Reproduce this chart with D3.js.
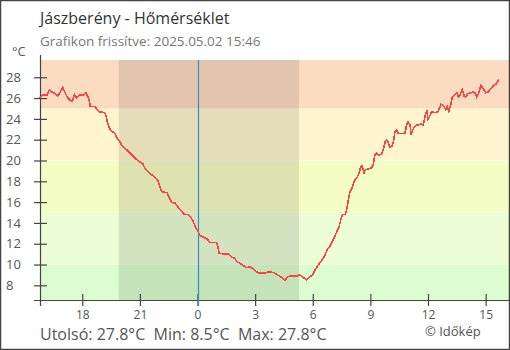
<!DOCTYPE html>
<html>
<head>
<meta charset="utf-8">
<script src="https://cdn.jsdelivr.net/npm/d3@7"></script>
<style>
  html, body { margin: 0; padding: 0; background: #fff; }
  svg { display: block; font-family: "Open Sans", sans-serif; }
</style>
</head>
<body>
<svg id="chart" width="510" height="350"></svg>
<script>
// Temperature readings, Jászberény, 2025-05-01 15:47 -> 2025-05-02 15:40
const times = [
  "2025-05-01 15:47","2025-05-01 15:52","2025-05-01 15:58","2025-05-01 16:11","2025-05-01 16:17",
  "2025-05-01 16:23","2025-05-01 16:32","2025-05-01 16:42","2025-05-01 16:50","2025-05-01 16:59",
  "2025-05-01 17:05","2025-05-01 17:13","2025-05-01 17:22","2025-05-01 17:28","2025-05-01 17:36",
  "2025-05-01 17:43","2025-05-01 17:51","2025-05-01 18:03","2025-05-01 18:12","2025-05-01 18:18",
  "2025-05-01 18:23","2025-05-01 18:25","2025-05-01 18:39","2025-05-01 18:47","2025-05-01 18:51",
  "2025-05-01 19:10","2025-05-01 19:15","2025-05-01 19:20","2025-05-01 19:27","2025-05-01 19:33",
  "2025-05-01 19:43","2025-05-01 19:49","2025-05-01 19:56","2025-05-01 20:02","2025-05-01 20:13",
  "2025-05-01 20:23","2025-05-01 20:33","2025-05-01 20:46","2025-05-01 20:58","2025-05-01 21:09",
  "2025-05-01 21:16","2025-05-01 21:30","2025-05-01 21:47","2025-05-01 21:56","2025-05-01 22:02",
  "2025-05-01 22:08","2025-05-01 22:25","2025-05-01 22:31","2025-05-01 22:39","2025-05-01 22:50",
  "2025-05-01 23:00","2025-05-01 23:08","2025-05-01 23:19","2025-05-01 23:31","2025-05-01 23:40",
  "2025-05-01 23:47","2025-05-01 23:54","2025-05-02 00:01","2025-05-02 00:08","2025-05-02 00:21",
  "2025-05-02 00:32","2025-05-02 00:39","2025-05-02 01:00","2025-05-02 01:05","2025-05-02 01:07",
  "2025-05-02 01:21","2025-05-02 01:38","2025-05-02 01:47","2025-05-02 01:57","2025-05-02 02:02",
  "2025-05-02 02:13","2025-05-02 02:23","2025-05-02 02:34","2025-05-02 02:44","2025-05-02 02:54",
  "2025-05-02 03:05","2025-05-02 03:10","2025-05-02 03:31","2025-05-02 03:46","2025-05-02 04:00",
  "2025-05-02 04:10","2025-05-02 04:21","2025-05-02 04:26","2025-05-02 04:34","2025-05-02 04:40",
  "2025-05-02 04:49","2025-05-02 05:10","2025-05-02 05:18","2025-05-02 05:25","2025-05-02 05:33",
  "2025-05-02 05:40","2025-05-02 05:49","2025-05-02 06:00","2025-05-02 06:07","2025-05-02 06:14",
  "2025-05-02 06:23","2025-05-02 06:31","2025-05-02 06:38","2025-05-02 06:45","2025-05-02 06:54",
  "2025-05-02 07:02","2025-05-02 07:10","2025-05-02 07:17","2025-05-02 07:23","2025-05-02 07:30",
  "2025-05-02 07:34","2025-05-02 07:42","2025-05-02 07:46","2025-05-02 07:51","2025-05-02 07:56",
  "2025-05-02 08:02","2025-05-02 08:07","2025-05-02 08:15","2025-05-02 08:19","2025-05-02 08:25",
  "2025-05-02 08:29","2025-05-02 08:33","2025-05-02 08:36","2025-05-02 08:40","2025-05-02 08:44",
  "2025-05-02 08:53","2025-05-02 09:04","2025-05-02 09:09","2025-05-02 09:14","2025-05-02 09:20",
  "2025-05-02 09:25","2025-05-02 09:35","2025-05-02 09:40","2025-05-02 09:46","2025-05-02 09:51",
  "2025-05-02 09:56","2025-05-02 10:01","2025-05-02 10:08","2025-05-02 10:12","2025-05-02 10:17",
  "2025-05-02 10:22","2025-05-02 10:27","2025-05-02 10:38","2025-05-02 10:48","2025-05-02 10:53",
  "2025-05-02 10:58","2025-05-02 11:04","2025-05-02 11:07","2025-05-02 11:12","2025-05-02 11:17",
  "2025-05-02 11:25","2025-05-02 11:40","2025-05-02 11:45","2025-05-02 11:51","2025-05-02 11:56",
  "2025-05-02 12:00","2025-05-02 12:06","2025-05-02 12:11","2025-05-02 12:22","2025-05-02 12:32",
  "2025-05-02 12:40","2025-05-02 12:48","2025-05-02 12:55","2025-05-02 13:00","2025-05-02 13:05",
  "2025-05-02 13:12","2025-05-02 13:16","2025-05-02 13:24","2025-05-02 13:30","2025-05-02 13:35",
  "2025-05-02 13:40","2025-05-02 13:47","2025-05-02 13:53","2025-05-02 13:58","2025-05-02 14:04",
  "2025-05-02 14:14","2025-05-02 14:21","2025-05-02 14:27","2025-05-02 14:32","2025-05-02 14:39",
  "2025-05-02 14:45","2025-05-02 14:53","2025-05-02 15:00","2025-05-02 15:08","2025-05-02 15:17",
  "2025-05-02 15:24","2025-05-02 15:31","2025-05-02 15:38","2025-05-02 15:40"
];
const temps = [
  26.0,26.2,26.3,26.3,26.8, 26.6,26.5,26.2,26.5,27.0,
  26.6,26.1,25.8,25.7,26.3, 26.0,26.3,26.3,26.5,26.1,
  25.6,25.2,25.2,24.9,24.7, 24.6,24.2,23.5,23.0,22.8,
  22.6,22.1,21.9,21.5,21.2, 20.9,20.6,20.2,19.9,19.7,
  19.2,18.8,18.4,18.1,17.5, 17.0,16.9,16.5,16.0,15.9,
  15.5,15.2,14.8,14.8,14.5, 14.1,13.6,13.2,12.8,12.6,
  12.4,12.1,12.1,11.5,11.1, 11.0,11.0,10.7,10.6,10.3,
  10.1,9.9,9.7,9.8,9.6,     9.3,9.2,9.2,9.3,9.2,
  9.0,8.8,8.7,8.5,8.8,      8.9,8.9,9.0,8.9,8.7,
  8.5,8.8,9.0,9.5,9.8,      10.2,10.5,10.9,11.4,11.8,
  12.3,12.8,13.3,13.7,14.6, 14.8,14.8,15.3,16.2,17.0,
  17.3,17.8,18.3,18.4,18.8, 19.3,19.5,19.3,18.8,19.1,
  19.2,19.3,19.6,20.5,20.7, 20.5,20.6,21.0,21.8,22.0,
  21.7,21.3,21.4,21.8,22.8, 22.9,22.6,22.6,22.6,23.4,
  23.7,23.4,22.5,22.9,23.2, 23.4,23.5,23.4,24.3,24.8,
  24.0,24.3,24.7,24.6,24.7, 25.4,25.3,24.9,25.2,24.7,
  25.5,26.1,26.3,26.5,26.1, 26.3,26.8,26.2,26.1,26.4,
  26.5,26.6,26.5,26.1,26.5, 27.2,26.9,26.5,26.6,26.9,
  27.2,27.3,27.6,27.8
];

// Axis ticks
const yTicks = [8, 10, 12, 14, 16, 18, 20, 22, 24, 26, 28];
const xTickTimes = ["2025-05-01 18:00","2025-05-01 21:00","2025-05-02 00:00","2025-05-02 03:00",
                    "2025-05-02 06:00","2025-05-02 09:00","2025-05-02 12:00","2025-05-02 15:00"];
const xTickLabels = ["18","21","0","3","6","9","12","15"];

// Temperature comfort bands (lower, upper bound in °C)
const bandLows  = [-50, 10, 15, 20, 25];
const bandHighs = [10, 15, 20, 25, 50];
const bandColors = ["#dcfdcf", "#edfdd5", "#f5fdc6", "#fff6cf", "#fcdcc0"];

// Night period (sunset -> sunrise) and midnight marker
const nightStart = "2025-05-01 19:54";
const nightEnd = "2025-05-02 05:17";
const midnight = "2025-05-02 00:00";
const domainStart = "2025-05-01 15:48";
const domainEnd = "2025-05-02 16:13";

const title = "Jászberény - Hőmérséklet";
const subtitle = "Grafikon frissítve: 2025.05.02 15:46";
const unit = "°C";
const credit = "© Időkép";

const parse = d3.timeParse("%Y-%m-%d %H:%M");
const data = times.map((t, i) => ({ t: parse(t), v: temps[i] }));

const L = 40, R = 509, T = 60, B = 300;
const svg = d3.select("#chart");

const x = d3.scaleTime().domain([parse(domainStart), parse(domainEnd)]).range([L, R]);
const y = d3.scaleLinear().domain([6.59, 29.66]).range([B, T]);

// background bands
const clampY = v => Math.max(T, Math.min(B, y(v)));
svg.append("g").selectAll("rect")
  .data(bandLows.map((lo, i) => ({ lo, hi: bandHighs[i], c: bandColors[i] })))
  .join("rect")
  .attr("x", L).attr("width", R - L)
  .attr("y", d => clampY(d.hi))
  .attr("height", d => clampY(d.lo) - clampY(d.hi))
  .attr("fill", d => d.c);

// night shading
svg.append("rect")
  .attr("x", x(parse(nightStart)))
  .attr("width", x(parse(nightEnd)) - x(parse(nightStart)))
  .attr("y", T).attr("height", B - T)
  .attr("fill", "rgba(0,0,0,0.1)");

const axisColor = "#444";
const labelColor = "#555";

// y axis
const yAxis = svg.append("g").attr("transform", `translate(${L},0)`)
  .call(d3.axisLeft(y).tickValues(yTicks).tickSize(6).tickFormat(d3.format("d")));
yAxis.select(".domain").remove();
yAxis.selectAll(".tick line").attr("x1", 7).attr("stroke", axisColor).attr("stroke-width", 1.2);
yAxis.selectAll(".tick text")
  .attr("x", -34).attr("text-anchor", "start")
  .attr("fill", labelColor).style("font-size", "13px").style("font-family", "Open Sans, sans-serif");

// x axis
const xAxis = svg.append("g").attr("transform", `translate(0,${B})`)
  .call(d3.axisBottom(x).tickValues(xTickTimes.map(parse)).tickSize(6)
    .tickFormat((d, i) => xTickLabels[i]));
xAxis.select(".domain").remove();
xAxis.selectAll(".tick line").attr("y1", -6).attr("stroke", axisColor).attr("stroke-width", 1.2);
xAxis.selectAll(".tick text")
  .attr("y", 10).attr("dy", "0.71em")
  .attr("fill", labelColor).style("font-size", "12px").style("font-family", "Open Sans, sans-serif");

// axis lines
svg.append("line").attr("x1", L - 6).attr("x2", R).attr("y1", B + 0.5).attr("y2", B + 0.5)
  .attr("stroke", axisColor).attr("stroke-width", 1.2);
svg.append("line").attr("x1", L + 0.5).attr("x2", L + 0.5).attr("y1", T - 5).attr("y2", B + 6)
  .attr("stroke", axisColor).attr("stroke-width", 1.2);

// midnight marker
const xm = Math.round(x(parse(midnight))) + 0.5;
svg.append("line").attr("x1", xm).attr("x2", xm).attr("y1", T).attr("y2", B + 6)
  .attr("stroke", "#2e8fd0").attr("stroke-width", 1.2);

// temperature line
svg.append("path")
  .datum(data)
  .attr("fill", "none")
  .attr("stroke", "#ff4040")
  .attr("stroke-width", 1.6)
  .attr("shape-rendering", "crispEdges")
  .attr("d", d3.line().x(d => x(d.t)).y(d => y(d.v)));

// titles
svg.append("text").attr("x", 40).attr("y", 24).text(title)
  .attr("fill", "#333").style("font-size", "16px");
svg.append("text").attr("x", 40).attr("y", 46).text(subtitle)
  .attr("fill", "#777").style("font-size", "13.5px");
svg.append("text").attr("x", 12).attr("y", 56).text(unit)
  .attr("fill", labelColor).style("font-size", "13px");

// summary line
const last = temps[temps.length - 1];
const fmt = d3.format(".1f");
const summary = `Utolsó: ${fmt(last)}°C  Min: ${fmt(d3.min(temps))}°C  Max: ${fmt(d3.max(temps))}°C`;
svg.append("text").attr("x", 40).attr("y", 340).text(summary)
  .attr("fill", labelColor).style("font-size", "16px").style("white-space", "pre");
svg.append("text").attr("x", 425).attr("y", 336).text(credit)
  .attr("fill", labelColor).style("font-size", "13px");

// frame
svg.append("rect").attr("x", 0.5).attr("y", 0.5).attr("width", 509).attr("height", 349)
  .attr("fill", "none").attr("stroke", "#444").attr("stroke-width", 1.5);
</script>
</body>
</html>
